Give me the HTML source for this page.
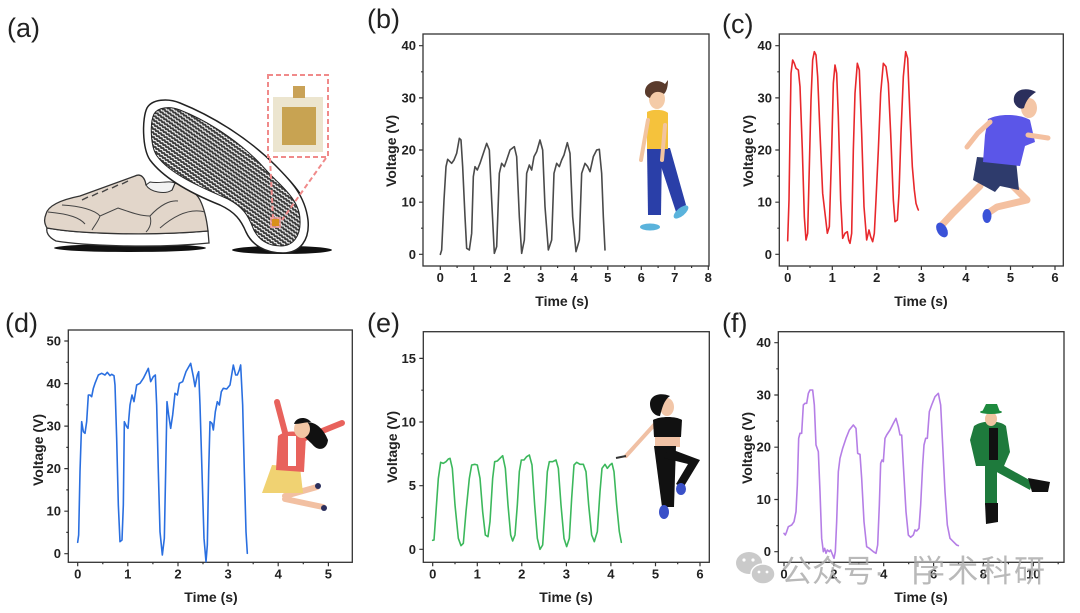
<!DOCTYPE html>
<html><head><meta charset="utf-8"><style>
html,body{margin:0;padding:0;background:#fff;}
svg{display:block;}
.tl{font-family:"Liberation Sans",Arial,sans-serif;font-weight:bold;font-size:13px;fill:#222;}
.at{font-family:"Liberation Sans",Arial,sans-serif;font-weight:bold;font-size:14px;fill:#222;}
.pl{font-family:"Liberation Sans",Arial,sans-serif;font-size:27px;fill:#222;}
.fr{fill:none;stroke:#333;stroke-width:1.3;}
.tk{fill:none;stroke:#333;stroke-width:1.2;}
.cv{fill:none;stroke-width:4.8;stroke-linejoin:round;stroke-linecap:round;}
</style></head><body>
<svg width="1080" height="613" viewBox="0 0 1080 613" xmlns="http://www.w3.org/2000/svg">
<defs>
<pattern id="tread" patternUnits="userSpaceOnUse" width="7" height="3.6" patternTransform="rotate(35)">
<rect width="7" height="3.6" fill="#3a3a3a"/>
<path d="M0,1.8 L1.75,0.6 L3.5,1.8 L5.25,0.6 L7,1.8" fill="none" stroke="#fff" stroke-width="1.1"/>
</pattern>
</defs>

<!-- Panel labels -->
<text class="pl" x="7" y="37">(a)</text>
<text class="pl" x="367" y="28">(b)</text>
<text class="pl" x="722" y="33">(c)</text>
<text class="pl" x="5" y="332">(d)</text>
<text class="pl" x="367" y="332">(e)</text>
<text class="pl" x="722" y="332">(f)</text>

<!-- ===== Panel (a) shoes ===== -->
<ellipse cx="130" cy="248" rx="76" ry="4" fill="#111"/>
<ellipse cx="282" cy="250" rx="50" ry="4" fill="#111"/>
<!-- left shoe -->
<path d="M47,228 C80,234 150,236 208,231 L209,243 C150,249 80,245 56,241 C48,237 46,232 47,228 Z" fill="#fff" stroke="#333" stroke-width="1.3"/>
<path d="M46,214 C48,206 60,200 80,196 L135,176 C141,173 145,178 146,185 C155,192 165,193 172,190 L175,183 C186,186 196,192 200,200 C205,210 207,222 208,231 C150,236 80,234 47,228 C44,223 44,219 46,214 Z" fill="#e2d6ca" stroke="#333" stroke-width="1.3"/>
<path d="M146,185 C150,192 165,195 172,190 L175,183 C168,180 160,184 150,182 Z" fill="#f2f2f2" stroke="#333" stroke-width="1"/>
<path d="M48,212 C70,214 80,218 85,224 M62,205 C80,206 95,210 100,216 L118,208 C130,212 140,216 150,216 C152,223 150,228 146,232 M100,216 C98,222 94,226 92,230 M150,216 C160,205 170,200 178,201 M160,228 C175,215 190,208 205,212" fill="none" stroke="#444" stroke-width="1"/>
<path d="M82,200 L88,197 M92,196 L98,193 M102,192 L108,189 M112,188 L118,185 M122,184 L128,181" stroke="#444" stroke-width="1.4"/>
<!-- tilted sole -->
<path d="M228,132 C255,150 285,172 300,195" fill="none" stroke="#111" stroke-width="3"/>
<path d="M147,108 C152,99 168,98 180,103 C215,117 250,140 275,165 C290,180 305,195 308,220 C310,240 300,253 283,253 C265,253 252,245 246,232 C241,220 235,212 220,205 C195,195 165,180 150,160 C142,148 142,118 147,108 Z" fill="#fff" stroke="#222" stroke-width="1.5"/>
<path d="M154,114 C158,107 170,106 180,110 C213,123 245,146 266,170 C276,182 300,198 300,220 C301,236 293,246 281,246 C268,246 258,240 253,228 C248,215 243,207 228,199 C200,187 170,174 157,156 C150,146 150,122 154,114 Z" fill="url(#tread)" stroke="#222" stroke-width="1"/>
<!-- inset photo -->
<rect x="268" y="75" width="60" height="82" fill="#fff" stroke="#f08a8a" stroke-width="2" stroke-dasharray="5,3"/>
<rect x="273" y="97" width="50" height="55" fill="#ece5cf"/>
<rect x="282" y="107" width="34" height="38" fill="#c8a352"/>
<rect x="293" y="86" width="12" height="12" fill="#c9a257"/>
<line x1="270" y1="158" x2="273" y2="218" stroke="#f08a8a" stroke-width="2" stroke-dasharray="5,3"/>
<line x1="326" y1="158" x2="282" y2="220" stroke="#f08a8a" stroke-width="2" stroke-dasharray="5,3"/>
<rect x="270" y="217" width="11" height="11" fill="#f4a0a0" opacity="0.8"/>
<rect x="272" y="219" width="7" height="7" fill="#d9901a"/>

<!-- ===== Panel (b) ===== -->
<rect class="fr" x="423" y="34" width="286" height="232"/>
<path class="tk" d="M419 254.3H423M419 202.2H423M419 150H423M419 97.9H423M419 45.7H423M421 228.2H423M421 176.1H423M421 123.9H423M421 71.8H423
M440.3 266V270M473.8 266V270M507.3 266V270M540.8 266V270M574.3 266V270M607.8 266V270M641.3 266V270M674.8 266V270M708.3 266V270
M457.1 266V268M490.6 266V268M524.1 266V268M557.6 266V268M591.1 266V268M624.6 266V268M658.1 266V268M691.6 266V268"/>
<g class="tl" text-anchor="end"><text x="416" y="258.8">0</text><text x="416" y="206.7">10</text><text x="416" y="154.5">20</text><text x="416" y="102.4">30</text><text x="416" y="50.2">40</text></g>
<g class="tl" text-anchor="middle"><text x="440.3" y="282">0</text><text x="473.8" y="282">1</text><text x="507.3" y="282">2</text><text x="540.8" y="282">3</text><text x="574.3" y="282">4</text><text x="607.8" y="282">5</text><text x="641.3" y="282">6</text><text x="674.8" y="282">7</text><text x="708.3" y="282">8</text></g>
<text class="at" x="562" y="306" text-anchor="middle">Time (s)</text>
<text class="at" transform="translate(396,151) rotate(-90)" text-anchor="middle">Voltage (V)</text>
<g transform="translate(360,0) scale(0.33333)">
<polyline class="cv" stroke="#4a4a4a" points="241,763 245,750 252,600 258,500 263,478 270,485 275,490 282,480 290,460 298,415 303,420 308,500 315,650 320,745 328,750 335,700 340,530 345,500 352,510 360,490 370,460 380,430 388,450 395,600 403,760 410,740 418,520 425,490 433,500 440,480 450,450 463,440 470,470 478,650 485,760 493,720 500,520 508,495 515,510 522,470 530,455 540,420 548,450 555,620 565,750 575,720 582,520 590,490 598,500 605,480 612,465 622,428 630,460 638,650 648,755 658,720 665,520 675,490 683,500 690,515 700,470 710,450 718,448 725,520 730,650 735,750"/>
</g>
<!-- walking boy -->
<g>
<path d="M647,148 L662,148 L661,215 L648,215 Z" fill="#2a3fa8"/>
<path d="M655,148 L670,148 L686,205 L676,212 Z" fill="#2a3fa8"/>
<path d="M647,112 C652,109 664,109 668,113 L668,149 L647,149 Z" fill="#f5c23c"/>
<path d="M648,120 L641,160" stroke="#f2c4a0" stroke-width="4" stroke-linecap="round"/>
<path d="M665,125 L662,160" stroke="#f2c4a0" stroke-width="4" stroke-linecap="round"/>
<ellipse cx="657" cy="99" rx="8" ry="10" fill="#f4cba8"/>
<path d="M645,92 C645,82 658,78 665,84 L668,80 C668,88 666,92 664,94 C658,90 652,92 650,98 C647,97 645,95 645,92 Z" fill="#5a3b2c"/>
<ellipse cx="650" cy="227" rx="10" ry="3.5" fill="#5ab3dc"/>
<ellipse cx="681" cy="212" rx="9" ry="4" fill="#5ab3dc" transform="rotate(-40 681 212)"/>
</g>

<!-- ===== Panel (c) ===== -->
<rect class="fr" x="779.3" y="34" width="284" height="232"/>
<path class="tk" d="M775.3 254.3H779.3M775.3 202.2H779.3M775.3 150H779.3M775.3 97.9H779.3M775.3 45.7H779.3M777.3 228.2H779.3M777.3 176.1H779.3M777.3 123.9H779.3M777.3 71.8H779.3
M787.7 266V270M832.3 266V270M876.8 266V270M921.4 266V270M965.9 266V270M1010.5 266V270M1055 266V270
M810 266V268M854.5 266V268M899.1 266V268M943.6 266V268M988.2 266V268M1032.7 266V268"/>
<g class="tl" text-anchor="end"><text x="772" y="258.8">0</text><text x="772" y="206.7">10</text><text x="772" y="154.5">20</text><text x="772" y="102.4">30</text><text x="772" y="50.2">40</text></g>
<g class="tl" text-anchor="middle"><text x="787.7" y="282">0</text><text x="832.3" y="282">1</text><text x="876.8" y="282">2</text><text x="921.4" y="282">3</text><text x="965.9" y="282">4</text><text x="1010.5" y="282">5</text><text x="1055" y="282">6</text></g>
<text class="at" x="921" y="306" text-anchor="middle">Time (s)</text>
<text class="at" transform="translate(753,151) rotate(-90)" text-anchor="middle">Voltage (V)</text>
<g transform="translate(720,0) scale(0.33333)">
<polyline class="cv" stroke="#e8282c" points="203,722 207,600 210,400 213,220 218,180 223,190 228,205 235,210 240,260 247,450 253,650 258,720 263,700 268,500 273,300 278,180 283,155 288,165 293,230 300,400 308,580 315,640 322,700 328,680 335,450 340,250 345,195 350,220 355,350 362,600 368,715 375,700 382,695 386,720 390,730 395,700 400,450 405,280 412,190 418,210 425,400 432,620 440,720 447,690 452,710 458,725 463,700 468,600 475,450 482,280 490,190 498,200 505,250 512,400 520,600 525,665 532,660 537,580 543,400 550,230 557,155 563,175 570,350 577,500 583,570 588,610 593,625 595,630"/>
</g>
<!-- runner -->
<g>
<path d="M980,186 L953,213 L941,226" stroke="#f4c0a0" stroke-width="7" fill="none" stroke-linecap="round"/>
<path d="M1012,185 L1027,200 L997,207 L988,213" stroke="#f4c0a0" stroke-width="7" fill="none" stroke-linecap="round" stroke-linejoin="round"/>
<path d="M977,157 L1016,160 L1019,190 L1000,186 L995,192 L973,180 Z" fill="#2e3b6c"/>
<path d="M988,119 C1000,113 1020,114 1030,120 L1035,142 L1025,146 L1020,166 L983,162 L985,135 Z" fill="#5b56e8"/>
<path d="M990,122 L978,133 L967,147" stroke="#f4c0a0" stroke-width="5" fill="none" stroke-linecap="round"/>
<path d="M1028,135 L1048,138" stroke="#f4c0a0" stroke-width="5" fill="none" stroke-linecap="round"/>
<ellipse cx="1029" cy="108" rx="8" ry="10" fill="#f4c6a6"/>
<path d="M1014,102 C1012,90 1025,86 1036,92 C1030,96 1026,100 1024,108 C1020,110 1016,107 1014,102 Z" fill="#2b2f5c"/>
<ellipse cx="942" cy="230" rx="5" ry="8" fill="#3a52d8" transform="rotate(-30 942 230)"/>
<ellipse cx="987" cy="216" rx="4.5" ry="7" fill="#3a52d8"/>
</g>

<!-- ===== Panel (d) ===== -->
<rect class="fr" x="68.3" y="330" width="284" height="232.3"/>
<path class="tk" d="M64.3 553.7H68.3M64.3 511.2H68.3M64.3 468.6H68.3M64.3 426.1H68.3M64.3 383.6H68.3M64.3 341H68.3M66.3 532.4H68.3M66.3 489.9H68.3M66.3 447.4H68.3M66.3 404.8H68.3M66.3 362.3H68.3
M77.7 562.3V566.3M127.8 562.3V566.3M178 562.3V566.3M228.1 562.3V566.3M278.2 562.3V566.3M328.4 562.3V566.3
M102.8 562.3V564.3M152.9 562.3V564.3M203 562.3V564.3M253.2 562.3V564.3M303.3 562.3V564.3"/>
<g class="tl" text-anchor="end"><text x="61" y="558.2">0</text><text x="61" y="515.7">10</text><text x="61" y="473.1">20</text><text x="61" y="430.6">30</text><text x="61" y="388.1">40</text><text x="61" y="345.5">50</text></g>
<g class="tl" text-anchor="middle"><text x="77.7" y="578.5">0</text><text x="127.8" y="578.5">1</text><text x="178" y="578.5">2</text><text x="228.1" y="578.5">3</text><text x="278.2" y="578.5">4</text><text x="328.4" y="578.5">5</text></g>
<text class="at" x="211" y="602" text-anchor="middle">Time (s)</text>
<text class="at" transform="translate(43,450) rotate(-90)" text-anchor="middle">Voltage (V)</text>
<g transform="translate(0,305) scale(0.33333)">
<polyline class="cv" stroke="#2a6fe0" points="233,712 236,690 240,500 245,350 250,380 255,385 260,350 265,270 270,270 275,275 280,250 285,235 295,210 305,205 315,210 322,202 330,212 335,208 342,212 345,240 350,400 355,600 360,710 366,705 370,600 373,350 380,365 384,370 390,300 396,270 402,290 410,240 420,235 430,220 445,190 452,230 460,215 466,210 470,300 475,500 480,680 487,750 493,700 497,500 501,290 506,330 512,370 518,330 525,265 532,270 538,235 548,230 558,200 572,175 580,215 585,245 592,210 596,200 600,300 606,500 612,700 618,770 622,720 626,500 630,350 636,355 640,375 646,320 652,290 658,300 664,260 670,250 680,252 690,240 700,180 707,210 712,210 718,195 722,180 728,300 733,500 738,680 742,745"/>
</g>
<!-- jumping girl -->
<g>
<path d="M287,440 L277,402" stroke="#e8625c" stroke-width="6" stroke-linecap="round"/>
<path d="M300,440 L342,423" stroke="#e8625c" stroke-width="6" stroke-linecap="round"/>
<path d="M285,496 L317,487 M285,499 L323,507" stroke="#f2c0a2" stroke-width="6" stroke-linecap="round"/>
<circle cx="318" cy="486" r="3" fill="#2b2f5c"/><circle cx="324" cy="508" r="3" fill="#2b2f5c"/>
<path d="M262,493 L272,465 L300,467 L303,493 Z" fill="#f0d272"/>
<path d="M278,436 C285,430 300,430 306,436 L304,472 L276,470 Z" fill="#e8625c"/>
<rect x="288" y="436" width="8" height="30" fill="#fff"/>
<path d="M300,425 C310,418 322,425 328,440 C327,450 318,452 312,444 C306,438 300,434 300,425 Z" fill="#111"/>
<ellipse cx="302" cy="429" rx="8" ry="9" fill="#f2c6a4"/>
<path d="M294,424 C296,417 306,416 311,422 C306,422 300,424 294,424 Z" fill="#111"/>
</g>

<!-- ===== Panel (e) ===== -->
<rect class="fr" x="423.3" y="331.7" width="286" height="230.6"/>
<path class="tk" d="M419.3 549.3H423.3M419.3 485.7H423.3M419.3 422H423.3M419.3 358.4H423.3M421.3 517.5H423.3M421.3 453.8H423.3M421.3 390.2H423.3
M432.7 562.3V566.3M477.3 562.3V566.3M521.8 562.3V566.3M566.4 562.3V566.3M610.9 562.3V566.3M655.5 562.3V566.3M700 562.3V566.3
M455 562.3V564.3M499.5 562.3V564.3M544.1 562.3V564.3M588.6 562.3V564.3M633.2 562.3V564.3M677.7 562.3V564.3"/>
<g class="tl" text-anchor="end"><text x="416" y="553.8">0</text><text x="416" y="490.2">5</text><text x="416" y="426.5">10</text><text x="416" y="362.9">15</text></g>
<g class="tl" text-anchor="middle"><text x="432.7" y="578.5">0</text><text x="477.3" y="578.5">1</text><text x="521.8" y="578.5">2</text><text x="566.4" y="578.5">3</text><text x="610.9" y="578.5">4</text><text x="655.5" y="578.5">5</text><text x="700" y="578.5">6</text></g>
<text class="at" x="566" y="602" text-anchor="middle">Time (s)</text>
<text class="at" transform="translate(397,447) rotate(-90)" text-anchor="middle">Voltage (V)</text>
<g transform="translate(360,305) scale(0.33333)">
<polyline class="cv" stroke="#3cb85c" points="218,706 222,705 228,620 235,520 242,472 250,475 258,470 265,462 270,460 277,490 285,600 295,700 303,722 310,715 318,620 328,520 335,480 345,478 352,480 360,520 368,620 376,690 384,695 390,650 398,520 404,470 412,468 420,460 428,452 436,490 444,600 452,690 458,708 465,690 472,600 478,500 484,465 492,465 500,455 508,450 516,480 524,600 532,700 540,733 548,720 556,600 562,500 568,470 578,470 588,465 595,490 603,600 612,700 620,725 628,700 635,580 642,480 650,472 660,478 670,478 678,500 686,600 695,690 703,710 712,680 720,560 726,490 735,478 742,490 750,480 756,475 762,500 770,600 778,680 784,712"/>
</g>
<!-- jump-rope woman -->
<g>
<path d="M655,424 L626,456" stroke="#f0c0a4" stroke-width="4" stroke-linecap="round"/>
<line x1="616" y1="458" x2="626" y2="456" stroke="#333" stroke-width="2"/>
<path d="M655,437 L680,437 L680,447 L655,447 Z" fill="#f0c2a6"/>
<path d="M653,420 C660,416 676,416 682,420 L681,437 L654,437 Z" fill="#111"/>
<path d="M654,446 L676,446 L674,507 L662,507 Z" fill="#111"/>
<path d="M668,448 L700,460 L683,488 L676,484 L688,464 L664,458 Z" fill="#111"/>
<ellipse cx="664" cy="512" rx="5" ry="7" fill="#3a50c8"/>
<ellipse cx="681" cy="489" rx="5" ry="6" fill="#3a50c8"/>
<ellipse cx="667" cy="407" rx="7" ry="9" fill="#f2c6a8"/>
<path d="M650,404 C650,395 660,392 670,396 C664,400 662,408 660,416 C654,416 650,410 650,404 Z" fill="#111"/>
</g>

<!-- ===== Panel (f) ===== -->
<rect class="fr" x="778.3" y="331.7" width="285.7" height="230.6"/>
<path class="tk" d="M774.3 551.7H778.3M774.3 499.5H778.3M774.3 447.2H778.3M774.3 395H778.3M774.3 342.7H778.3M776.3 525.6H778.3M776.3 473.3H778.3M776.3 421.1H778.3M776.3 368.8H778.3
M784 562.3V566.3M833.9 562.3V566.3M883.7 562.3V566.3M933.6 562.3V566.3M983.4 562.3V566.3M1033.3 562.3V566.3
M808.9 562.3V564.3M858.8 562.3V564.3M908.7 562.3V564.3M958.5 562.3V564.3M1008.4 562.3V564.3M1058.2 562.3V564.3"/>
<g class="tl" text-anchor="end"><text x="771" y="556.2">0</text><text x="771" y="504">10</text><text x="771" y="451.7">20</text><text x="771" y="399.5">30</text><text x="771" y="347.2">40</text></g>
<g class="tl" text-anchor="middle"><text x="784" y="578.5">0</text><text x="833.9" y="578.5">2</text><text x="883.7" y="578.5">4</text><text x="933.6" y="578.5">6</text><text x="983.4" y="578.5">8</text><text x="1033.3" y="578.5">10</text></g>
<text class="at" x="921" y="602" text-anchor="middle">Time (s)</text>
<text class="at" transform="translate(752,448) rotate(-90)" text-anchor="middle">Voltage (V)</text>
<g transform="translate(720,305) scale(0.33333)">
<polyline class="cv" stroke="#b57ee6" points="192,685 196,690 200,680 205,665 215,660 222,650 228,620 232,540 236,400 240,385 245,385 250,300 255,295 260,295 265,265 270,255 278,255 283,300 288,420 295,440 300,560 305,700 310,740 314,730 318,745 322,735 328,740 332,735 338,750 342,760 346,740 350,650 355,500 360,460 368,430 378,400 388,375 400,360 408,370 413,445 420,448 425,520 432,650 440,725 448,730 460,740 468,745 473,720 478,600 482,475 486,465 490,470 495,400 500,390 510,375 520,355 528,340 535,365 540,390 545,390 550,480 558,620 565,690 572,697 580,690 585,675 590,678 597,670 602,600 608,480 612,420 617,400 622,400 628,320 635,300 645,275 655,265 662,300 668,420 675,560 682,660 690,700 700,710 710,720 715,722"/>
</g>
<!-- leprechaun -->
<g>
<path d="M997,462 L1033,482 L1030,490 L993,470 Z" fill="#1e7a3c"/>
<rect x="985" y="463" width="12" height="42" fill="#1e7a3c"/>
<path d="M985,503 L998,503 L998,522 L986,524 Z" fill="#111"/>
<path d="M1028,478 L1050,482 L1048,492 L1032,492 Z" fill="#111"/>
<path d="M974,426 C982,420 1000,420 1006,426 L1010,452 L1004,466 L976,466 L970,440 Z" fill="#1e7a3c"/>
<rect x="989" y="428" width="9" height="32" fill="#111"/>
<ellipse cx="991" cy="419" rx="6" ry="7" fill="#f0c4a0"/>
<path d="M982,412 L1000,412 L997,404 L986,404 Z" fill="#1e8a3e"/>
<ellipse cx="991" cy="412" rx="11" ry="2" fill="#1e8a3e"/>
</g>

<!-- watermark -->
<g opacity="0.8">
<ellipse cx="749" cy="563" rx="13" ry="11" fill="#bdbdbd"/>
<ellipse cx="763" cy="574" rx="12" ry="10" fill="#bdbdbd" stroke="#fff" stroke-width="1.5"/>
<circle cx="744" cy="560" r="1.6" fill="#fff"/><circle cx="753" cy="560" r="1.6" fill="#fff"/>
<circle cx="759" cy="572" r="1.4" fill="#fff"/><circle cx="767" cy="572" r="1.4" fill="#fff"/>
<text x="781" y="582" font-family="'Liberation Sans','Noto Sans CJK SC',sans-serif" font-size="31" fill="#a8a8a8">公众号·</text>
<text x="900" y="582" font-family="'Liberation Sans','Noto Sans CJK SC',sans-serif" font-size="31" fill="#a8a8a8">丨</text>
<text x="914" y="582" font-family="'Liberation Sans','Noto Sans CJK SC',sans-serif" font-size="31" fill="#a8a8a8" textLength="131">学术科研</text>
</g>
</svg>
</body></html>
